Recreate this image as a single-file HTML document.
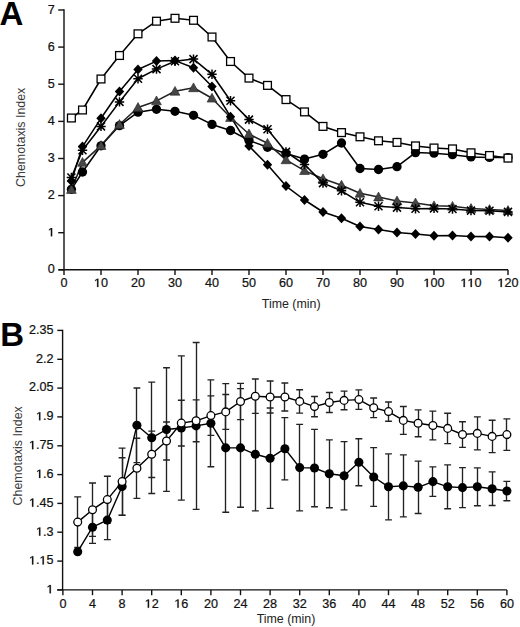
<!DOCTYPE html>
<html><head><meta charset="utf-8"><title>Chemotaxis Index</title>
<style>
html,body{margin:0;padding:0;background:#fff;}
body{width:520px;height:627px;overflow:hidden;font-family:"Liberation Sans",sans-serif;}
svg{display:block;}
</style></head>
<body>
<svg width="520" height="627" viewBox="0 0 520 627">
<rect width="520" height="627" fill="#fff"/>
<g stroke="#111" stroke-width="1.4" fill="none">
<path d="M64.0,9.3 V269.8 M58.5,269.8 H508.0"/>
<path d="M58.2,269.8 H64.0"/>
<path d="M58.2,232.7 H64.0"/>
<path d="M58.2,195.6 H64.0"/>
<path d="M58.2,158.5 H64.0"/>
<path d="M58.2,121.4 H64.0"/>
<path d="M58.2,84.2 H64.0"/>
<path d="M58.2,47.1 H64.0"/>
<path d="M58.2,10.0 H64.0"/>
<path d="M64.0,269.8 V275.1"/>
<path d="M101.0,269.8 V275.1"/>
<path d="M138.0,269.8 V275.1"/>
<path d="M175.0,269.8 V275.1"/>
<path d="M212.0,269.8 V275.1"/>
<path d="M249.0,269.8 V275.1"/>
<path d="M286.0,269.8 V275.1"/>
<path d="M323.0,269.8 V275.1"/>
<path d="M360.0,269.8 V275.1"/>
<path d="M397.0,269.8 V275.1"/>
<path d="M434.0,269.8 V275.1"/>
<path d="M471.0,269.8 V275.1"/>
<path d="M508.0,269.8 V275.1"/>
</g>
<g font-family="Liberation Sans, sans-serif" font-size="11.9" fill="#111">
<g transform="translate(54.80,273.40) scale(1.06,1)" fill="#111" stroke="#111" stroke-width="0.22"><text x="-6.62" y="0" font-family="Liberation Sans, sans-serif" font-size="11.9">0</text></g>
<g transform="translate(54.80,236.29) scale(1.06,1)" fill="#111" stroke="#111" stroke-width="0.22"><path d="M-3.71,0.00 L-3.71,-7.15 L-5.51,-5.87 L-5.51,-6.89 L-3.57,-8.19 L-2.48,-8.19 L-2.48,0.00Z"/></g>
<g transform="translate(54.80,199.18) scale(1.06,1)" fill="#111" stroke="#111" stroke-width="0.22"><text x="-6.62" y="0" font-family="Liberation Sans, sans-serif" font-size="11.9">2</text></g>
<g transform="translate(54.80,162.07) scale(1.06,1)" fill="#111" stroke="#111" stroke-width="0.22"><text x="-6.62" y="0" font-family="Liberation Sans, sans-serif" font-size="11.9">3</text></g>
<g transform="translate(54.80,124.96) scale(1.06,1)" fill="#111" stroke="#111" stroke-width="0.22"><text x="-6.62" y="0" font-family="Liberation Sans, sans-serif" font-size="11.9">4</text></g>
<g transform="translate(54.80,87.85) scale(1.06,1)" fill="#111" stroke="#111" stroke-width="0.22"><text x="-6.62" y="0" font-family="Liberation Sans, sans-serif" font-size="11.9">5</text></g>
<g transform="translate(54.80,50.74) scale(1.06,1)" fill="#111" stroke="#111" stroke-width="0.22"><text x="-6.62" y="0" font-family="Liberation Sans, sans-serif" font-size="11.9">6</text></g>
<g transform="translate(54.80,13.63) scale(1.06,1)" fill="#111" stroke="#111" stroke-width="0.22"><text x="-6.62" y="0" font-family="Liberation Sans, sans-serif" font-size="11.9">7</text></g>
<g transform="translate(64.00,287.00) scale(1.06,1)" fill="#111" stroke="#111" stroke-width="0.22"><text x="-3.31" y="0" font-family="Liberation Sans, sans-serif" font-size="11.9">0</text></g>
<g transform="translate(101.00,287.00) scale(1.06,1)" fill="#111" stroke="#111" stroke-width="0.22"><path d="M-3.71,0.00 L-3.71,-7.15 L-5.51,-5.87 L-5.51,-6.89 L-3.57,-8.19 L-2.48,-8.19 L-2.48,0.00Z"/><text x="0.00" y="0" font-family="Liberation Sans, sans-serif" font-size="11.9">0</text></g>
<g transform="translate(138.00,287.00) scale(1.06,1)" fill="#111" stroke="#111" stroke-width="0.22"><text x="-6.62" y="0" font-family="Liberation Sans, sans-serif" font-size="11.9">2</text><text x="0.00" y="0" font-family="Liberation Sans, sans-serif" font-size="11.9">0</text></g>
<g transform="translate(175.00,287.00) scale(1.06,1)" fill="#111" stroke="#111" stroke-width="0.22"><text x="-6.62" y="0" font-family="Liberation Sans, sans-serif" font-size="11.9">3</text><text x="0.00" y="0" font-family="Liberation Sans, sans-serif" font-size="11.9">0</text></g>
<g transform="translate(212.00,287.00) scale(1.06,1)" fill="#111" stroke="#111" stroke-width="0.22"><text x="-6.62" y="0" font-family="Liberation Sans, sans-serif" font-size="11.9">4</text><text x="0.00" y="0" font-family="Liberation Sans, sans-serif" font-size="11.9">0</text></g>
<g transform="translate(249.00,287.00) scale(1.06,1)" fill="#111" stroke="#111" stroke-width="0.22"><text x="-6.62" y="0" font-family="Liberation Sans, sans-serif" font-size="11.9">5</text><text x="0.00" y="0" font-family="Liberation Sans, sans-serif" font-size="11.9">0</text></g>
<g transform="translate(286.00,287.00) scale(1.06,1)" fill="#111" stroke="#111" stroke-width="0.22"><text x="-6.62" y="0" font-family="Liberation Sans, sans-serif" font-size="11.9">6</text><text x="0.00" y="0" font-family="Liberation Sans, sans-serif" font-size="11.9">0</text></g>
<g transform="translate(323.00,287.00) scale(1.06,1)" fill="#111" stroke="#111" stroke-width="0.22"><text x="-6.62" y="0" font-family="Liberation Sans, sans-serif" font-size="11.9">7</text><text x="0.00" y="0" font-family="Liberation Sans, sans-serif" font-size="11.9">0</text></g>
<g transform="translate(360.00,287.00) scale(1.06,1)" fill="#111" stroke="#111" stroke-width="0.22"><text x="-6.62" y="0" font-family="Liberation Sans, sans-serif" font-size="11.9">8</text><text x="0.00" y="0" font-family="Liberation Sans, sans-serif" font-size="11.9">0</text></g>
<g transform="translate(397.00,287.00) scale(1.06,1)" fill="#111" stroke="#111" stroke-width="0.22"><text x="-6.62" y="0" font-family="Liberation Sans, sans-serif" font-size="11.9">9</text><text x="0.00" y="0" font-family="Liberation Sans, sans-serif" font-size="11.9">0</text></g>
<g transform="translate(434.00,287.00) scale(1.06,1)" fill="#111" stroke="#111" stroke-width="0.22"><path d="M-7.02,0.00 L-7.02,-7.15 L-8.82,-5.87 L-8.82,-6.89 L-6.88,-8.19 L-5.79,-8.19 L-5.79,0.00Z"/><text x="-3.31" y="0" font-family="Liberation Sans, sans-serif" font-size="11.9">0</text><text x="3.31" y="0" font-family="Liberation Sans, sans-serif" font-size="11.9">0</text></g>
<g transform="translate(471.00,287.00) scale(1.06,1)" fill="#111" stroke="#111" stroke-width="0.22"><path d="M-7.02,0.00 L-7.02,-7.15 L-8.82,-5.87 L-8.82,-6.89 L-6.88,-8.19 L-5.79,-8.19 L-5.79,0.00Z"/><path d="M-0.40,0.00 L-0.40,-7.15 L-2.21,-5.87 L-2.21,-6.89 L-0.26,-8.19 L0.83,-8.19 L0.83,0.00Z"/><text x="3.31" y="0" font-family="Liberation Sans, sans-serif" font-size="11.9">0</text></g>
<g transform="translate(508.00,287.00) scale(1.06,1)" fill="#111" stroke="#111" stroke-width="0.22"><path d="M-7.02,0.00 L-7.02,-7.15 L-8.82,-5.87 L-8.82,-6.89 L-6.88,-8.19 L-5.79,-8.19 L-5.79,0.00Z"/><text x="-3.31" y="0" font-family="Liberation Sans, sans-serif" font-size="11.9">2</text><text x="3.31" y="0" font-family="Liberation Sans, sans-serif" font-size="11.9">0</text></g>
</g>
<text x="291.2" y="307.8" text-anchor="middle" font-family="Liberation Sans, sans-serif" font-size="12.4" fill="#222">Time (min)</text>
<text transform="translate(25.2,137.3) rotate(-90)" text-anchor="middle" font-family="Liberation Sans, sans-serif" font-size="12.4" fill="#3a3a3a">Chemotaxis Index</text>
<text x="-0.5" y="24.8" font-family="Liberation Sans, sans-serif" font-weight="bold" font-size="33" fill="#000">A</text>
<polyline points="71.4,189.3 82.5,172.0 101.0,145.8 119.5,125.6 138.0,112.2 156.5,109.3 175.0,111.3 193.5,115.3 212.0,124.4 230.5,130.5 249.0,140.4 267.5,147.3 286.0,153.4 304.5,159.1 323.0,154.3 341.5,143.0 360.0,168.5 378.5,169.5 397.0,166.7 415.5,152.6 434.0,153.2 452.5,154.7 471.0,156.9 489.5,157.4 508.0,157.6" fill="none" stroke="#000" stroke-width="1.55" stroke-linejoin="round"/>
<polyline points="71.4,189.5 82.5,162.4 101.0,145.6 119.5,124.5 138.0,107.5 156.5,100.9 175.0,91.3 193.5,87.8 212.0,98.2 230.5,117.5 249.0,134.0 267.5,143.3 286.0,159.8 304.5,170.6 323.0,178.8 341.5,185.2 360.0,193.3 378.5,197.0 397.0,200.9 415.5,203.0 434.0,205.8 452.5,206.3 471.0,208.5 489.5,209.5 508.0,210.5" fill="none" stroke="#222" stroke-width="1.55" stroke-linejoin="round"/>
<polyline points="71.4,181.0 82.5,146.6 101.0,118.3 119.5,91.5 138.0,69.5 156.5,61.1 175.0,60.6 193.5,67.8 212.0,86.5 230.5,116.7 249.0,146.1 267.5,164.7 286.0,186.1 304.5,200.0 323.0,212.0 341.5,218.3 360.0,226.5 378.5,229.4 397.0,232.4 415.5,234.1 434.0,235.8 452.5,235.6 471.0,236.5 489.5,236.6 508.0,237.7" fill="none" stroke="#000" stroke-width="1.55" stroke-linejoin="round"/>
<polyline points="71.4,177.5 82.5,150.2 101.0,126.4 119.5,101.9 138.0,78.8 156.5,69.1 175.0,61.2 193.5,59.1 212.0,74.3 230.5,100.8 249.0,119.6 267.5,129.2 286.0,151.9 304.5,164.5 323.0,183.1 341.5,190.8 360.0,202.3 378.5,206.2 397.0,207.6 415.5,208.8 434.0,208.4 452.5,209.0 471.0,210.6 489.5,210.8 508.0,211.9" fill="none" stroke="#000" stroke-width="1.55" stroke-linejoin="round"/>
<polyline points="71.4,118.0 82.5,110.0 101.0,79.0 119.5,55.5 138.0,33.8 156.5,21.2 175.0,18.3 193.5,20.3 212.0,37.0 230.5,61.5 249.0,78.1 267.5,85.4 286.0,99.6 304.5,111.9 323.0,126.4 341.5,132.6 360.0,136.8 378.5,140.8 397.0,142.4 415.5,145.9 434.0,148.0 452.5,148.9 471.0,152.8 489.5,155.5 508.0,158.1" fill="none" stroke="#000" stroke-width="1.55" stroke-linejoin="round"/>
<g fill="#000">
<circle cx="71.4" cy="189.3" r="4.65"/>
<circle cx="82.5" cy="172.0" r="4.65"/>
<circle cx="101.0" cy="145.8" r="4.65"/>
<circle cx="119.5" cy="125.6" r="4.65"/>
<circle cx="138.0" cy="112.2" r="4.65"/>
<circle cx="156.5" cy="109.3" r="4.65"/>
<circle cx="175.0" cy="111.3" r="4.65"/>
<circle cx="193.5" cy="115.3" r="4.65"/>
<circle cx="212.0" cy="124.4" r="4.65"/>
<circle cx="230.5" cy="130.5" r="4.65"/>
<circle cx="249.0" cy="140.4" r="4.65"/>
<circle cx="267.5" cy="147.3" r="4.65"/>
<circle cx="286.0" cy="153.4" r="4.65"/>
<circle cx="304.5" cy="159.1" r="4.65"/>
<circle cx="323.0" cy="154.3" r="4.65"/>
<circle cx="341.5" cy="143.0" r="4.65"/>
<circle cx="360.0" cy="168.5" r="4.65"/>
<circle cx="378.5" cy="169.5" r="4.65"/>
<circle cx="397.0" cy="166.7" r="4.65"/>
<circle cx="415.5" cy="152.6" r="4.65"/>
<circle cx="434.0" cy="153.2" r="4.65"/>
<circle cx="452.5" cy="154.7" r="4.65"/>
<circle cx="471.0" cy="156.9" r="4.65"/>
<circle cx="489.5" cy="157.4" r="4.65"/>
<circle cx="508.0" cy="157.6" r="4.65"/>
</g>
<g fill="#454545" stroke="#222" stroke-width="0.6" stroke-linejoin="round">
<path d="M71.4,184.6 L76.3,193.4 L66.5,193.4Z"/>
<path d="M82.5,157.5 L87.4,166.3 L77.6,166.3Z"/>
<path d="M101.0,140.7 L105.9,149.5 L96.1,149.5Z"/>
<path d="M119.5,119.6 L124.4,128.4 L114.6,128.4Z"/>
<path d="M138.0,102.6 L142.9,111.4 L133.1,111.4Z"/>
<path d="M156.5,96.0 L161.4,104.8 L151.6,104.8Z"/>
<path d="M175.0,86.4 L179.9,95.2 L170.1,95.2Z"/>
<path d="M193.5,82.9 L198.4,91.7 L188.6,91.7Z"/>
<path d="M212.0,93.3 L216.9,102.1 L207.1,102.1Z"/>
<path d="M230.5,112.6 L235.4,121.4 L225.6,121.4Z"/>
<path d="M249.0,129.1 L253.9,137.9 L244.1,137.9Z"/>
<path d="M267.5,138.4 L272.4,147.2 L262.6,147.2Z"/>
<path d="M286.0,154.9 L290.9,163.7 L281.1,163.7Z"/>
<path d="M304.5,165.7 L309.4,174.5 L299.6,174.5Z"/>
<path d="M323.0,173.9 L327.9,182.7 L318.1,182.7Z"/>
<path d="M341.5,180.3 L346.4,189.1 L336.6,189.1Z"/>
<path d="M360.0,188.4 L364.9,197.2 L355.1,197.2Z"/>
<path d="M378.5,192.1 L383.4,200.9 L373.6,200.9Z"/>
<path d="M397.0,196.0 L401.9,204.8 L392.1,204.8Z"/>
<path d="M415.5,198.1 L420.4,206.9 L410.6,206.9Z"/>
<path d="M434.0,200.9 L438.9,209.7 L429.1,209.7Z"/>
<path d="M452.5,201.4 L457.4,210.2 L447.6,210.2Z"/>
<path d="M471.0,203.6 L475.9,212.4 L466.1,212.4Z"/>
<path d="M489.5,204.6 L494.4,213.4 L484.6,213.4Z"/>
<path d="M508.0,205.6 L512.9,214.4 L503.1,214.4Z"/>
</g>
<g fill="#000">
<path d="M71.4,176.0 L76.1,181.0 L71.4,186.0 L66.7,181.0Z"/>
<path d="M82.5,141.6 L87.2,146.6 L82.5,151.6 L77.8,146.6Z"/>
<path d="M101.0,113.3 L105.7,118.3 L101.0,123.3 L96.3,118.3Z"/>
<path d="M119.5,86.5 L124.2,91.5 L119.5,96.5 L114.8,91.5Z"/>
<path d="M138.0,64.5 L142.7,69.5 L138.0,74.5 L133.3,69.5Z"/>
<path d="M156.5,56.1 L161.2,61.1 L156.5,66.1 L151.8,61.1Z"/>
<path d="M175.0,55.6 L179.7,60.6 L175.0,65.6 L170.3,60.6Z"/>
<path d="M193.5,62.8 L198.2,67.8 L193.5,72.8 L188.8,67.8Z"/>
<path d="M212.0,81.5 L216.7,86.5 L212.0,91.5 L207.3,86.5Z"/>
<path d="M230.5,111.7 L235.2,116.7 L230.5,121.7 L225.8,116.7Z"/>
<path d="M249.0,141.1 L253.7,146.1 L249.0,151.1 L244.3,146.1Z"/>
<path d="M267.5,159.7 L272.2,164.7 L267.5,169.7 L262.8,164.7Z"/>
<path d="M286.0,181.1 L290.7,186.1 L286.0,191.1 L281.3,186.1Z"/>
<path d="M304.5,195.0 L309.2,200.0 L304.5,205.0 L299.8,200.0Z"/>
<path d="M323.0,207.0 L327.7,212.0 L323.0,217.0 L318.3,212.0Z"/>
<path d="M341.5,213.3 L346.2,218.3 L341.5,223.3 L336.8,218.3Z"/>
<path d="M360.0,221.5 L364.7,226.5 L360.0,231.5 L355.3,226.5Z"/>
<path d="M378.5,224.4 L383.2,229.4 L378.5,234.4 L373.8,229.4Z"/>
<path d="M397.0,227.4 L401.7,232.4 L397.0,237.4 L392.3,232.4Z"/>
<path d="M415.5,229.1 L420.2,234.1 L415.5,239.1 L410.8,234.1Z"/>
<path d="M434.0,230.8 L438.7,235.8 L434.0,240.8 L429.3,235.8Z"/>
<path d="M452.5,230.6 L457.2,235.6 L452.5,240.6 L447.8,235.6Z"/>
<path d="M471.0,231.5 L475.7,236.5 L471.0,241.5 L466.3,236.5Z"/>
<path d="M489.5,231.6 L494.2,236.6 L489.5,241.6 L484.8,236.6Z"/>
<path d="M508.0,232.7 L512.7,237.7 L508.0,242.7 L503.3,237.7Z"/>
</g>
<g stroke="#000" stroke-width="1.5" fill="none">
<path d="M66.7,177.5H76.1M71.4,172.8V182.2M67.4,173.5L75.4,181.5M67.4,181.5L75.4,173.5"/>
<path d="M77.8,150.2H87.2M82.5,145.5V154.9M78.5,146.2L86.5,154.2M78.5,154.2L86.5,146.2"/>
<path d="M96.3,126.4H105.7M101.0,121.7V131.1M97.0,122.4L105.0,130.4M97.0,130.4L105.0,122.4"/>
<path d="M114.8,101.9H124.2M119.5,97.2V106.6M115.5,97.9L123.5,105.9M115.5,105.9L123.5,97.9"/>
<path d="M133.3,78.8H142.7M138.0,74.1V83.5M134.0,74.8L142.0,82.8M134.0,82.8L142.0,74.8"/>
<path d="M151.8,69.1H161.2M156.5,64.4V73.8M152.5,65.1L160.5,73.1M152.5,73.1L160.5,65.1"/>
<path d="M170.3,61.2H179.7M175.0,56.5V65.9M171.0,57.2L179.0,65.2M171.0,65.2L179.0,57.2"/>
<path d="M188.8,59.1H198.2M193.5,54.4V63.8M189.5,55.1L197.5,63.1M189.5,63.1L197.5,55.1"/>
<path d="M207.3,74.3H216.7M212.0,69.6V79.0M208.0,70.3L216.0,78.3M208.0,78.3L216.0,70.3"/>
<path d="M225.8,100.8H235.2M230.5,96.1V105.5M226.5,96.8L234.5,104.8M226.5,104.8L234.5,96.8"/>
<path d="M244.3,119.6H253.7M249.0,114.9V124.3M245.0,115.6L253.0,123.6M245.0,123.6L253.0,115.6"/>
<path d="M262.8,129.2H272.2M267.5,124.5V133.9M263.5,125.2L271.5,133.2M263.5,133.2L271.5,125.2"/>
<path d="M281.3,151.9H290.7M286.0,147.2V156.6M282.0,147.9L290.0,155.9M282.0,155.9L290.0,147.9"/>
<path d="M299.8,164.5H309.2M304.5,159.8V169.2M300.5,160.5L308.5,168.5M300.5,168.5L308.5,160.5"/>
<path d="M318.3,183.1H327.7M323.0,178.4V187.8M319.0,179.1L327.0,187.1M319.0,187.1L327.0,179.1"/>
<path d="M336.8,190.8H346.2M341.5,186.1V195.5M337.5,186.8L345.5,194.8M337.5,194.8L345.5,186.8"/>
<path d="M355.3,202.3H364.7M360.0,197.6V207.0M356.0,198.3L364.0,206.3M356.0,206.3L364.0,198.3"/>
<path d="M373.8,206.2H383.2M378.5,201.5V210.9M374.5,202.2L382.5,210.2M374.5,210.2L382.5,202.2"/>
<path d="M392.3,207.6H401.7M397.0,202.9V212.3M393.0,203.6L401.0,211.6M393.0,211.6L401.0,203.6"/>
<path d="M410.8,208.8H420.2M415.5,204.1V213.5M411.5,204.8L419.5,212.8M411.5,212.8L419.5,204.8"/>
<path d="M429.3,208.4H438.7M434.0,203.7V213.1M430.0,204.4L438.0,212.4M430.0,212.4L438.0,204.4"/>
<path d="M447.8,209.0H457.2M452.5,204.3V213.7M448.5,205.0L456.5,213.0M448.5,213.0L456.5,205.0"/>
<path d="M466.3,210.6H475.7M471.0,205.9V215.3M467.0,206.6L475.0,214.6M467.0,214.6L475.0,206.6"/>
<path d="M484.8,210.8H494.2M489.5,206.1V215.5M485.5,206.8L493.5,214.8M485.5,214.8L493.5,206.8"/>
<path d="M503.3,211.9H512.7M508.0,207.2V216.6M504.0,207.9L512.0,215.9M504.0,215.9L512.0,207.9"/>
</g>
<g fill="#fff" stroke="#000" stroke-width="1.3">
<rect x="67.5" y="114.1" width="7.8" height="7.8"/>
<rect x="78.6" y="106.1" width="7.8" height="7.8"/>
<rect x="97.1" y="75.1" width="7.8" height="7.8"/>
<rect x="115.6" y="51.6" width="7.8" height="7.8"/>
<rect x="134.1" y="29.9" width="7.8" height="7.8"/>
<rect x="152.6" y="17.3" width="7.8" height="7.8"/>
<rect x="171.1" y="14.4" width="7.8" height="7.8"/>
<rect x="189.6" y="16.4" width="7.8" height="7.8"/>
<rect x="208.1" y="33.1" width="7.8" height="7.8"/>
<rect x="226.6" y="57.6" width="7.8" height="7.8"/>
<rect x="245.1" y="74.2" width="7.8" height="7.8"/>
<rect x="263.6" y="81.5" width="7.8" height="7.8"/>
<rect x="282.1" y="95.7" width="7.8" height="7.8"/>
<rect x="300.6" y="108.0" width="7.8" height="7.8"/>
<rect x="319.1" y="122.5" width="7.8" height="7.8"/>
<rect x="337.6" y="128.7" width="7.8" height="7.8"/>
<rect x="356.1" y="132.9" width="7.8" height="7.8"/>
<rect x="374.6" y="136.9" width="7.8" height="7.8"/>
<rect x="393.1" y="138.5" width="7.8" height="7.8"/>
<rect x="411.6" y="142.0" width="7.8" height="7.8"/>
<rect x="430.1" y="144.1" width="7.8" height="7.8"/>
<rect x="448.6" y="145.0" width="7.8" height="7.8"/>
<rect x="467.1" y="148.9" width="7.8" height="7.8"/>
<rect x="485.6" y="151.6" width="7.8" height="7.8"/>
<rect x="504.1" y="154.2" width="7.8" height="7.8"/>
</g>
<g stroke="#111" stroke-width="1.4" fill="none">
<path d="M62.6,329.8 V589.9 M57.1,589.9 H506.9"/>
<path d="M57.3,589.9 H62.6"/>
<path d="M57.3,561.1 H62.6"/>
<path d="M57.3,532.2 H62.6"/>
<path d="M57.3,503.4 H62.6"/>
<path d="M57.3,474.6 H62.6"/>
<path d="M57.3,445.8 H62.6"/>
<path d="M57.3,416.9 H62.6"/>
<path d="M57.3,388.1 H62.6"/>
<path d="M57.3,359.3 H62.6"/>
<path d="M57.3,330.4 H62.6"/>
<path d="M62.9,589.9 V595.2"/>
<path d="M92.5,589.9 V595.2"/>
<path d="M122.1,589.9 V595.2"/>
<path d="M151.7,589.9 V595.2"/>
<path d="M181.3,589.9 V595.2"/>
<path d="M210.9,589.9 V595.2"/>
<path d="M240.5,589.9 V595.2"/>
<path d="M270.1,589.9 V595.2"/>
<path d="M299.7,589.9 V595.2"/>
<path d="M329.3,589.9 V595.2"/>
<path d="M358.9,589.9 V595.2"/>
<path d="M388.5,589.9 V595.2"/>
<path d="M418.1,589.9 V595.2"/>
<path d="M447.7,589.9 V595.2"/>
<path d="M477.3,589.9 V595.2"/>
<path d="M506.9,589.9 V595.2"/>
</g>
<g font-family="Liberation Sans, sans-serif" font-size="11.9" fill="#111">
<g transform="translate(53.50,593.30) scale(1.06,1)" fill="#111" stroke="#111" stroke-width="0.22"><path d="M-3.71,0.00 L-3.71,-7.15 L-5.51,-5.87 L-5.51,-6.89 L-3.57,-8.19 L-2.48,-8.19 L-2.48,0.00Z"/></g>
<g transform="translate(53.50,564.47) scale(1.06,1)" fill="#111" stroke="#111" stroke-width="0.22"><path d="M-20.26,0.00 L-20.26,-7.15 L-22.06,-5.87 L-22.06,-6.89 L-20.11,-8.19 L-19.02,-8.19 L-19.02,0.00Z"/><text x="-16.54" y="0" font-family="Liberation Sans, sans-serif" font-size="11.9">.</text><path d="M-10.33,0.00 L-10.33,-7.15 L-12.13,-5.87 L-12.13,-6.89 L-10.19,-8.19 L-9.10,-8.19 L-9.10,0.00Z"/><text x="-6.62" y="0" font-family="Liberation Sans, sans-serif" font-size="11.9">5</text></g>
<g transform="translate(53.50,535.64) scale(1.06,1)" fill="#111" stroke="#111" stroke-width="0.22"><path d="M-13.64,0.00 L-13.64,-7.15 L-15.44,-5.87 L-15.44,-6.89 L-13.49,-8.19 L-12.41,-8.19 L-12.41,0.00Z"/><text x="-9.92" y="0" font-family="Liberation Sans, sans-serif" font-size="11.9">.</text><text x="-6.62" y="0" font-family="Liberation Sans, sans-serif" font-size="11.9">3</text></g>
<g transform="translate(53.50,506.81) scale(1.06,1)" fill="#111" stroke="#111" stroke-width="0.22"><path d="M-20.26,0.00 L-20.26,-7.15 L-22.06,-5.87 L-22.06,-6.89 L-20.11,-8.19 L-19.02,-8.19 L-19.02,0.00Z"/><text x="-16.54" y="0" font-family="Liberation Sans, sans-serif" font-size="11.9">.</text><text x="-13.24" y="0" font-family="Liberation Sans, sans-serif" font-size="11.9">4</text><text x="-6.62" y="0" font-family="Liberation Sans, sans-serif" font-size="11.9">5</text></g>
<g transform="translate(53.50,477.98) scale(1.06,1)" fill="#111" stroke="#111" stroke-width="0.22"><path d="M-13.64,0.00 L-13.64,-7.15 L-15.44,-5.87 L-15.44,-6.89 L-13.49,-8.19 L-12.41,-8.19 L-12.41,0.00Z"/><text x="-9.92" y="0" font-family="Liberation Sans, sans-serif" font-size="11.9">.</text><text x="-6.62" y="0" font-family="Liberation Sans, sans-serif" font-size="11.9">6</text></g>
<g transform="translate(53.50,449.15) scale(1.06,1)" fill="#111" stroke="#111" stroke-width="0.22"><path d="M-20.26,0.00 L-20.26,-7.15 L-22.06,-5.87 L-22.06,-6.89 L-20.11,-8.19 L-19.02,-8.19 L-19.02,0.00Z"/><text x="-16.54" y="0" font-family="Liberation Sans, sans-serif" font-size="11.9">.</text><text x="-13.24" y="0" font-family="Liberation Sans, sans-serif" font-size="11.9">7</text><text x="-6.62" y="0" font-family="Liberation Sans, sans-serif" font-size="11.9">5</text></g>
<g transform="translate(53.50,420.32) scale(1.06,1)" fill="#111" stroke="#111" stroke-width="0.22"><path d="M-13.64,0.00 L-13.64,-7.15 L-15.44,-5.87 L-15.44,-6.89 L-13.49,-8.19 L-12.41,-8.19 L-12.41,0.00Z"/><text x="-9.92" y="0" font-family="Liberation Sans, sans-serif" font-size="11.9">.</text><text x="-6.62" y="0" font-family="Liberation Sans, sans-serif" font-size="11.9">9</text></g>
<g transform="translate(53.50,391.49) scale(1.06,1)" fill="#111" stroke="#111" stroke-width="0.22"><text x="-23.16" y="0" font-family="Liberation Sans, sans-serif" font-size="11.9">2</text><text x="-16.54" y="0" font-family="Liberation Sans, sans-serif" font-size="11.9">.</text><text x="-13.24" y="0" font-family="Liberation Sans, sans-serif" font-size="11.9">0</text><text x="-6.62" y="0" font-family="Liberation Sans, sans-serif" font-size="11.9">5</text></g>
<g transform="translate(53.50,362.66) scale(1.06,1)" fill="#111" stroke="#111" stroke-width="0.22"><text x="-16.54" y="0" font-family="Liberation Sans, sans-serif" font-size="11.9">2</text><text x="-9.92" y="0" font-family="Liberation Sans, sans-serif" font-size="11.9">.</text><text x="-6.62" y="0" font-family="Liberation Sans, sans-serif" font-size="11.9">2</text></g>
<g transform="translate(53.50,333.83) scale(1.06,1)" fill="#111" stroke="#111" stroke-width="0.22"><text x="-23.16" y="0" font-family="Liberation Sans, sans-serif" font-size="11.9">2</text><text x="-16.54" y="0" font-family="Liberation Sans, sans-serif" font-size="11.9">.</text><text x="-13.24" y="0" font-family="Liberation Sans, sans-serif" font-size="11.9">3</text><text x="-6.62" y="0" font-family="Liberation Sans, sans-serif" font-size="11.9">5</text></g>
<g transform="translate(62.90,607.70) scale(1.06,1)" fill="#111" stroke="#111" stroke-width="0.22"><text x="-3.31" y="0" font-family="Liberation Sans, sans-serif" font-size="11.9">0</text></g>
<g transform="translate(92.50,607.70) scale(1.06,1)" fill="#111" stroke="#111" stroke-width="0.22"><text x="-3.31" y="0" font-family="Liberation Sans, sans-serif" font-size="11.9">4</text></g>
<g transform="translate(122.10,607.70) scale(1.06,1)" fill="#111" stroke="#111" stroke-width="0.22"><text x="-3.31" y="0" font-family="Liberation Sans, sans-serif" font-size="11.9">8</text></g>
<g transform="translate(151.70,607.70) scale(1.06,1)" fill="#111" stroke="#111" stroke-width="0.22"><path d="M-3.71,0.00 L-3.71,-7.15 L-5.51,-5.87 L-5.51,-6.89 L-3.57,-8.19 L-2.48,-8.19 L-2.48,0.00Z"/><text x="0.00" y="0" font-family="Liberation Sans, sans-serif" font-size="11.9">2</text></g>
<g transform="translate(181.30,607.70) scale(1.06,1)" fill="#111" stroke="#111" stroke-width="0.22"><path d="M-3.71,0.00 L-3.71,-7.15 L-5.51,-5.87 L-5.51,-6.89 L-3.57,-8.19 L-2.48,-8.19 L-2.48,0.00Z"/><text x="0.00" y="0" font-family="Liberation Sans, sans-serif" font-size="11.9">6</text></g>
<g transform="translate(210.90,607.70) scale(1.06,1)" fill="#111" stroke="#111" stroke-width="0.22"><text x="-6.62" y="0" font-family="Liberation Sans, sans-serif" font-size="11.9">2</text><text x="0.00" y="0" font-family="Liberation Sans, sans-serif" font-size="11.9">0</text></g>
<g transform="translate(240.50,607.70) scale(1.06,1)" fill="#111" stroke="#111" stroke-width="0.22"><text x="-6.62" y="0" font-family="Liberation Sans, sans-serif" font-size="11.9">2</text><text x="0.00" y="0" font-family="Liberation Sans, sans-serif" font-size="11.9">4</text></g>
<g transform="translate(270.10,607.70) scale(1.06,1)" fill="#111" stroke="#111" stroke-width="0.22"><text x="-6.62" y="0" font-family="Liberation Sans, sans-serif" font-size="11.9">2</text><text x="0.00" y="0" font-family="Liberation Sans, sans-serif" font-size="11.9">8</text></g>
<g transform="translate(299.70,607.70) scale(1.06,1)" fill="#111" stroke="#111" stroke-width="0.22"><text x="-6.62" y="0" font-family="Liberation Sans, sans-serif" font-size="11.9">3</text><text x="0.00" y="0" font-family="Liberation Sans, sans-serif" font-size="11.9">2</text></g>
<g transform="translate(329.30,607.70) scale(1.06,1)" fill="#111" stroke="#111" stroke-width="0.22"><text x="-6.62" y="0" font-family="Liberation Sans, sans-serif" font-size="11.9">3</text><text x="0.00" y="0" font-family="Liberation Sans, sans-serif" font-size="11.9">6</text></g>
<g transform="translate(358.90,607.70) scale(1.06,1)" fill="#111" stroke="#111" stroke-width="0.22"><text x="-6.62" y="0" font-family="Liberation Sans, sans-serif" font-size="11.9">4</text><text x="0.00" y="0" font-family="Liberation Sans, sans-serif" font-size="11.9">0</text></g>
<g transform="translate(388.50,607.70) scale(1.06,1)" fill="#111" stroke="#111" stroke-width="0.22"><text x="-6.62" y="0" font-family="Liberation Sans, sans-serif" font-size="11.9">4</text><text x="0.00" y="0" font-family="Liberation Sans, sans-serif" font-size="11.9">4</text></g>
<g transform="translate(418.10,607.70) scale(1.06,1)" fill="#111" stroke="#111" stroke-width="0.22"><text x="-6.62" y="0" font-family="Liberation Sans, sans-serif" font-size="11.9">4</text><text x="0.00" y="0" font-family="Liberation Sans, sans-serif" font-size="11.9">8</text></g>
<g transform="translate(447.70,607.70) scale(1.06,1)" fill="#111" stroke="#111" stroke-width="0.22"><text x="-6.62" y="0" font-family="Liberation Sans, sans-serif" font-size="11.9">5</text><text x="0.00" y="0" font-family="Liberation Sans, sans-serif" font-size="11.9">2</text></g>
<g transform="translate(477.30,607.70) scale(1.06,1)" fill="#111" stroke="#111" stroke-width="0.22"><text x="-6.62" y="0" font-family="Liberation Sans, sans-serif" font-size="11.9">5</text><text x="0.00" y="0" font-family="Liberation Sans, sans-serif" font-size="11.9">6</text></g>
<g transform="translate(506.90,607.70) scale(1.06,1)" fill="#111" stroke="#111" stroke-width="0.22"><text x="-6.62" y="0" font-family="Liberation Sans, sans-serif" font-size="11.9">6</text><text x="0.00" y="0" font-family="Liberation Sans, sans-serif" font-size="11.9">0</text></g>
</g>
<text x="286.0" y="623.0" text-anchor="middle" font-family="Liberation Sans, sans-serif" font-size="12.4" fill="#222">Time (min)</text>
<text transform="translate(22.2,455.8) rotate(-90)" text-anchor="middle" font-family="Liberation Sans, sans-serif" font-size="12.4" fill="#3a3a3a">Chemotaxis Index</text>
<text x="0.2" y="346.4" font-family="Liberation Sans, sans-serif" font-weight="bold" font-size="33" fill="#000">B</text>
<g stroke="#222" stroke-width="1.35" fill="none">
<path d="M92.5,511.1V543.3M89.0,511.1H96.0M89.0,543.3H96.0"/>
<path d="M107.5,500.6V539.6M103.9,500.6H110.8M103.9,539.6H110.8"/>
<path d="M122.5,457.7V515.3M118.6,457.7H125.5M118.6,515.3H125.5"/>
<path d="M136.5,388.0V462.6M133.5,388.0H140.3M133.5,462.6H140.3"/>
<path d="M151.5,382.1V493.5M148.3,382.1H155.2M148.3,493.5H155.2"/>
<path d="M166.5,367.7V491.3M163.1,367.7H169.9M163.1,491.3H169.9"/>
<path d="M181.5,355.9V500.1M177.9,355.9H184.8M177.9,500.1H184.8"/>
<path d="M196.5,342.5V509.3M192.7,342.5H199.6M192.7,509.3H199.6"/>
<path d="M210.5,379.9V466.7M207.5,379.9H214.3M207.5,466.7H214.3"/>
<path d="M225.5,383.6V512.2M222.3,383.6H229.2M222.3,512.2H229.2"/>
<path d="M240.5,388.6V507.2M237.1,388.6H244.0M237.1,507.2H244.0"/>
<path d="M255.5,397.8V510.8M251.9,397.8H258.8M251.9,510.8H258.8"/>
<path d="M270.5,408.0V508.4M266.7,408.0H273.6M266.7,508.4H273.6"/>
<path d="M284.5,417.6V479.8M281.4,417.6H288.3M281.4,479.8H288.3"/>
<path d="M299.5,424.4V510.8M296.2,424.4H303.1M296.2,510.8H303.1"/>
<path d="M314.5,429.3V506.7M311.1,429.3H317.9M311.1,506.7H317.9"/>
<path d="M329.5,439.9V507.7M325.9,439.9H332.8M325.9,507.7H332.8"/>
<path d="M344.5,441.6V509.8M340.6,441.6H347.5M340.6,509.8H347.5"/>
<path d="M358.5,438.7V485.7M355.4,438.7H362.3M355.4,485.7H362.3"/>
<path d="M373.5,447.6V506.4M370.2,447.6H377.1M370.2,506.4H377.1"/>
<path d="M388.5,453.8V519.8M385.1,453.8H391.9M385.1,519.8H391.9"/>
<path d="M403.5,454.9V516.9M399.9,454.9H406.8M399.9,516.9H406.8"/>
<path d="M418.5,461.1V513.5M414.7,461.1H421.6M414.7,513.5H421.6"/>
<path d="M432.5,466.9V496.3M429.4,466.9H436.3M429.4,496.3H436.3"/>
<path d="M447.5,464.9V508.7M444.2,464.9H451.1M444.2,508.7H451.1"/>
<path d="M462.5,467.6V507.6M459.1,467.6H465.9M459.1,507.6H465.9"/>
<path d="M477.5,467.9V505.7M473.9,467.9H480.8M473.9,505.7H480.8"/>
<path d="M492.5,471.9V505.5M488.7,471.9H495.6M488.7,505.5H495.6"/>
<path d="M506.5,481.3V500.7M503.4,481.3H510.3M503.4,500.7H510.3"/>
</g>
<g stroke="#222" stroke-width="1.35" fill="none">
<path d="M77.5,496.8V547.4M74.2,496.8H81.2M74.2,547.4H81.2"/>
<path d="M92.5,483.0V536.4M89.0,483.0H96.0M89.0,536.4H96.0"/>
<path d="M107.5,476.2V523.0M103.9,476.2H110.8M103.9,523.0H110.8"/>
<path d="M122.5,448.1V515.1M118.6,448.1H125.5M118.6,515.1H125.5"/>
<path d="M136.5,438.2V498.4M133.5,438.2H140.3M133.5,498.4H140.3"/>
<path d="M151.5,431.1V477.5M148.3,431.1H155.2M148.3,477.5H155.2"/>
<path d="M166.5,422.0V460.0M163.1,422.0H169.9M163.1,460.0H169.9"/>
<path d="M181.5,400.2V446.0M177.9,400.2H184.8M177.9,446.0H184.8"/>
<path d="M196.5,399.9V441.7M192.7,399.9H199.6M192.7,441.7H199.6"/>
<path d="M210.5,395.9V435.3M207.5,395.9H214.3M207.5,435.3H214.3"/>
<path d="M225.5,394.5V429.3M222.3,394.5H229.2M222.3,429.3H229.2"/>
<path d="M240.5,383.4V419.6M237.1,383.4H244.0M237.1,419.6H244.0"/>
<path d="M255.5,379.0V413.4M251.9,379.0H258.8M251.9,413.4H258.8"/>
<path d="M270.5,381.0V413.0M266.7,381.0H273.6M266.7,413.0H273.6"/>
<path d="M284.5,383.0V411.0M281.4,383.0H288.3M281.4,411.0H288.3"/>
<path d="M299.5,389.7V413.1M296.2,389.7H303.1M296.2,413.1H303.1"/>
<path d="M314.5,396.5V416.7M311.1,396.5H317.9M311.1,416.7H317.9"/>
<path d="M329.5,392.5V412.5M325.9,392.5H332.8M325.9,412.5H332.8"/>
<path d="M344.5,391.1V409.7M340.6,391.1H347.5M340.6,409.7H347.5"/>
<path d="M358.5,389.8V409.4M355.4,389.8H362.3M355.4,409.4H362.3"/>
<path d="M373.5,398.0V417.6M370.2,398.0H377.1M370.2,417.6H377.1"/>
<path d="M388.5,402.0V421.2M385.1,402.0H391.9M385.1,421.2H391.9"/>
<path d="M403.5,406.5V434.3M399.9,406.5H406.8M399.9,434.3H406.8"/>
<path d="M418.5,409.9V436.7M414.7,409.9H421.6M414.7,436.7H421.6"/>
<path d="M432.5,411.1V439.9M429.4,411.1H436.3M429.4,439.9H436.3"/>
<path d="M447.5,413.2V443.6M444.2,413.2H451.1M444.2,443.6H451.1"/>
<path d="M462.5,421.7V447.3M459.1,421.7H465.9M459.1,447.3H465.9"/>
<path d="M477.5,416.9V449.9M473.9,416.9H480.8M473.9,449.9H480.8"/>
<path d="M492.5,420.2V452.6M488.7,420.2H495.6M488.7,452.6H495.6"/>
<path d="M506.5,418.8V450.4M503.4,418.8H510.3M503.4,450.4H510.3"/>
</g>
<polyline points="77.7,551.7 92.5,527.2 107.3,520.1 122.1,486.5 136.9,425.3 151.7,437.8 166.5,429.5 181.3,428.0 196.1,425.9 210.9,423.3 225.7,447.9 240.5,447.9 255.3,454.3 270.1,458.2 284.9,448.7 299.7,467.6 314.5,468.0 329.3,473.8 344.1,475.7 358.9,462.2 373.7,477.0 388.5,486.8 403.3,485.9 418.1,487.3 432.9,481.6 447.7,486.8 462.5,487.6 477.3,486.8 492.1,488.7 506.9,491.0" fill="none" stroke="#000" stroke-width="1.4" stroke-linejoin="round"/>
<polyline points="77.7,522.1 92.5,509.7 107.3,499.6 122.1,481.6 136.9,468.3 151.7,454.3 166.5,441.0 181.3,423.1 196.1,420.8 210.9,415.6 225.7,411.9 240.5,401.5 255.3,396.2 270.1,397.0 284.9,397.0 299.7,401.4 314.5,406.6 329.3,402.5 344.1,400.4 358.9,399.6 373.7,407.8 388.5,411.6 403.3,420.4 418.1,423.3 432.9,425.5 447.7,428.4 462.5,434.5 477.3,433.4 492.1,436.4 506.9,434.6" fill="none" stroke="#000" stroke-width="1.4" stroke-linejoin="round"/>
<g fill="#000">
<circle cx="77.7" cy="551.7" r="4.55"/>
<circle cx="92.5" cy="527.2" r="4.55"/>
<circle cx="107.3" cy="520.1" r="4.55"/>
<circle cx="122.1" cy="486.5" r="4.55"/>
<circle cx="136.9" cy="425.3" r="4.55"/>
<circle cx="151.7" cy="437.8" r="4.55"/>
<circle cx="166.5" cy="429.5" r="4.55"/>
<circle cx="181.3" cy="428.0" r="4.55"/>
<circle cx="196.1" cy="425.9" r="4.55"/>
<circle cx="210.9" cy="423.3" r="4.55"/>
<circle cx="225.7" cy="447.9" r="4.55"/>
<circle cx="240.5" cy="447.9" r="4.55"/>
<circle cx="255.3" cy="454.3" r="4.55"/>
<circle cx="270.1" cy="458.2" r="4.55"/>
<circle cx="284.9" cy="448.7" r="4.55"/>
<circle cx="299.7" cy="467.6" r="4.55"/>
<circle cx="314.5" cy="468.0" r="4.55"/>
<circle cx="329.3" cy="473.8" r="4.55"/>
<circle cx="344.1" cy="475.7" r="4.55"/>
<circle cx="358.9" cy="462.2" r="4.55"/>
<circle cx="373.7" cy="477.0" r="4.55"/>
<circle cx="388.5" cy="486.8" r="4.55"/>
<circle cx="403.3" cy="485.9" r="4.55"/>
<circle cx="418.1" cy="487.3" r="4.55"/>
<circle cx="432.9" cy="481.6" r="4.55"/>
<circle cx="447.7" cy="486.8" r="4.55"/>
<circle cx="462.5" cy="487.6" r="4.55"/>
<circle cx="477.3" cy="486.8" r="4.55"/>
<circle cx="492.1" cy="488.7" r="4.55"/>
<circle cx="506.9" cy="491.0" r="4.55"/>
</g>
<g fill="#fff" stroke="#000" stroke-width="1.3">
<circle cx="77.7" cy="522.1" r="3.9"/>
<circle cx="92.5" cy="509.7" r="3.9"/>
<circle cx="107.3" cy="499.6" r="3.9"/>
<circle cx="122.1" cy="481.6" r="3.9"/>
<circle cx="136.9" cy="468.3" r="3.9"/>
<circle cx="151.7" cy="454.3" r="3.9"/>
<circle cx="166.5" cy="441.0" r="3.9"/>
<circle cx="181.3" cy="423.1" r="3.9"/>
<circle cx="196.1" cy="420.8" r="3.9"/>
<circle cx="210.9" cy="415.6" r="3.9"/>
<circle cx="225.7" cy="411.9" r="3.9"/>
<circle cx="240.5" cy="401.5" r="3.9"/>
<circle cx="255.3" cy="396.2" r="3.9"/>
<circle cx="270.1" cy="397.0" r="3.9"/>
<circle cx="284.9" cy="397.0" r="3.9"/>
<circle cx="299.7" cy="401.4" r="3.9"/>
<circle cx="314.5" cy="406.6" r="3.9"/>
<circle cx="329.3" cy="402.5" r="3.9"/>
<circle cx="344.1" cy="400.4" r="3.9"/>
<circle cx="358.9" cy="399.6" r="3.9"/>
<circle cx="373.7" cy="407.8" r="3.9"/>
<circle cx="388.5" cy="411.6" r="3.9"/>
<circle cx="403.3" cy="420.4" r="3.9"/>
<circle cx="418.1" cy="423.3" r="3.9"/>
<circle cx="432.9" cy="425.5" r="3.9"/>
<circle cx="447.7" cy="428.4" r="3.9"/>
<circle cx="462.5" cy="434.5" r="3.9"/>
<circle cx="477.3" cy="433.4" r="3.9"/>
<circle cx="492.1" cy="436.4" r="3.9"/>
<circle cx="506.9" cy="434.6" r="3.9"/>
</g>
</svg>
</body></html>
